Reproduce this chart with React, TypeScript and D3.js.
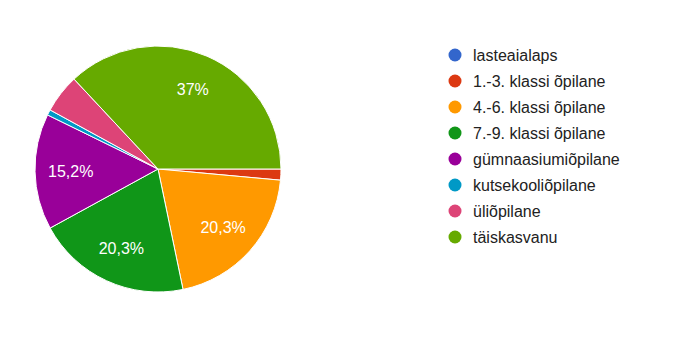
import React from "react";
import * as d3 from "d3";

const categories = [
  "lasteaialaps",
  "1.-3. klassi õpilane",
  "4.-6. klassi õpilane",
  "7.-9. klassi õpilane",
  "gümnaasiumiõpilane",
  "kutsekooliõpilane",
  "üliõpilane",
  "täiskasvanu",
];
const counts = [0, 2, 28, 28, 21, 1, 7, 51];
const colors = ["#3366cc", "#dc3912", "#ff9900", "#109618", "#990099", "#0099c6", "#dd4477", "#66aa00"];

const W = 680;
const H = 340;
const cx = 158;
const cy = 169;
const R = 123;

export default function App() {
  const total = d3.sum(counts);
  const pie = d3
    .pie<number>()
    .sort(null)
    .value((d) => d)
    .startAngle(Math.PI / 2)
    .endAngle(Math.PI / 2 + 2 * Math.PI);
  const arcs = pie(counts);
  const arc = d3.arc<d3.PieArcDatum<number>>().innerRadius(0).outerRadius(R);
  const labelArc = d3.arc<d3.PieArcDatum<number>>().innerRadius(R * 0.71).outerRadius(R * 0.71);
  const fmt = (v: number) => {
    const p = (v / total) * 100;
    const s = d3.format(".3~r")(p);
    return s.replace(".", ",") + "%";
  };
  const legendY = d3.scalePoint<number>().domain(d3.range(categories.length)).range([55, 237]);

  return (
    <svg width={W} height={H} style={{ position: "absolute", left: 0, top: 0, background: "#fff" }} fontFamily="'Liberation Sans', Arial, sans-serif">
      <rect width={W} height={H} fill="#fff" />
      <g transform={`translate(${cx},${cy})`}>
        {arcs.map((a, i) =>
          a.value > 0 ? (
            <path key={i} d={arc(a) || ""} fill={colors[i]} stroke="#fff" strokeWidth={1} />
          ) : null
        )}
        {arcs.map((a, i) => {
          if (a.value / total < 0.1) return null;
          const [x, y] = labelArc.centroid(a);
          return (
            <text key={i} x={x} y={y + 6} textAnchor="middle" fill="#fff" fontSize={16}>
              {fmt(a.value)}
            </text>
          );
        })}
      </g>
      <g>
        {categories.map((c, i) => (
          <g key={i} transform={`translate(455,${legendY(i)})`}>
            <circle r={6.5} fill={colors[i]} />
            <text x={18} y={6} fontSize={16} fill="#222">
              {c}
            </text>
          </g>
        ))}
      </g>
    </svg>
  );
}
